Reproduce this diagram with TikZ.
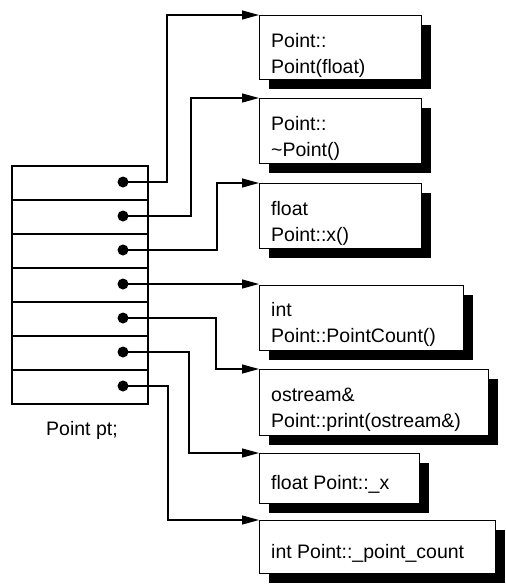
\documentclass[tikz,border=0pt]{standalone}
\usepackage{fontspec}
\setmainfont{Liberation Sans}
\usetikzlibrary{arrows.meta,shadows}
\begin{document}
\begin{tikzpicture}[x=1pt,y=-1pt,
  cell/.style={draw, line width=1.5pt, minimum width=136pt, minimum height=34pt, inner sep=0pt, anchor=north west},
  dotnode/.style={circle, fill=black, inner sep=0pt, minimum size=11pt},
  fbox/.style={draw, line width=1.4pt, fill=white, inner sep=0pt, anchor=north west,
    drop shadow={shadow xshift=9pt, shadow yshift=-9pt, fill=black, opacity=1}},
  lbl/.style={font=\fontsize{19.5pt}{25.5pt}\selectfont, align=left, inner sep=0pt, anchor=base west},
  arr/.style={line width=1.2pt, -{Triangle[length=17pt,width=9pt]}}]
\useasboundingbox (0,0) rectangle (506,584);

% table of pointers
\foreach \i in {1,...,7}{
  \node[cell] (r\i) at (11,{165+34*(\i-1)}) {};
  \node[dotnode] (d\i) at (123,{182+34*(\i-1)}) {};
}
\node[font=\fontsize{19.5pt}{24pt}\selectfont, anchor=base west, inner sep=0pt] (cap) at (46,435) {Point pt;};

% member boxes
\node[fbox, minimum width=162pt, minimum height=64pt] (b1) at (259,15) {};
\node[fbox, minimum width=162pt, minimum height=65pt] (b2) at (259,98) {};
\node[fbox, minimum width=162pt, minimum height=65pt] (b3) at (259,183) {};
\node[fbox, minimum width=204pt, minimum height=65pt] (b4) at (259,285) {};
\node[fbox, minimum width=229pt, minimum height=66pt] (b5) at (259,369) {};
\node[fbox, minimum width=160pt, minimum height=50pt] (b6) at (259,453) {};
\node[fbox, minimum width=236pt, minimum height=53pt] (b7) at (259,520) {};

% (base anchor of a two-line node is the baseline of its last line)
\node[lbl] (t1) at (271,73) {Point::\\Point(float)};
\node[lbl] (t2) at (271,156) {Point::\\\textasciitilde Point()};
\node[lbl] (t3) at (271,241) {float\\Point::x()};
\node[lbl] (t4) at (271,342) {int\\Point::PointCount()};
\node[lbl] (t5) at (271,427) {ostream\&\\Point::print(ostream\&)};
\node[lbl] (t6) at (271,489) {float Point::\_x};
\node[lbl] (t7) at (271,558) {int Point::\_point\_count};

% connectors
\draw[arr] (d1.center) -| ([xshift=-92pt]b1.north west) -- (b1.north west);
\draw[arr] (d2.center) -| ([xshift=-68pt]b2.north west) -- (b2.north west);
\draw[arr] (d3.center) -| ([xshift=-42pt]b3.north west) -- (b3.north west);
\draw[arr] (d4.center) -- (d4 -| b4.west);
\draw[arr] (d5.center) -| ([xshift=-43pt]b5.north west) -- (b5.north west);
\draw[arr] (d6.center) -| ([xshift=-70pt]b6.north west) -- (b6.north west);
\draw[arr] (d7.center) -| ([xshift=-91pt]b7.north west) -- (b7.north west);
\end{tikzpicture}
\end{document}
